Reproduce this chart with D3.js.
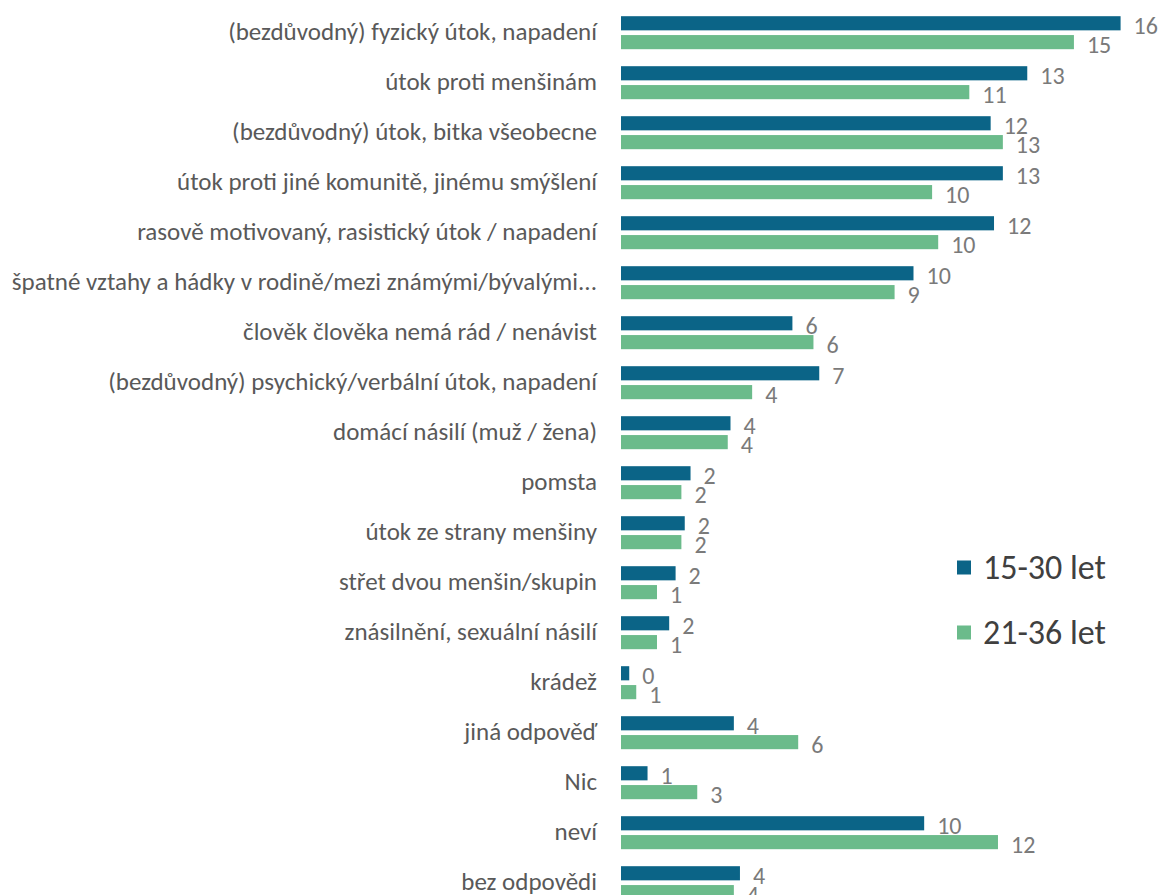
<!DOCTYPE html>
<meta charset="utf-8">
<script src="https://cdn.jsdelivr.net/npm/d3@7"></script>
<style>
body{margin: 0; background: #fff;}
text{font-family: Calibri, Carlito, Lato, sans-serif;}
.cat{fill: #595959; font-size: 25px;}
.val{fill: #7a7a7a; font-size: 24px;}
.leg{fill: #404040; font-size: 34px;}
</style>

<div id="vis"></div>

<script>

// Categories (top to bottom)
var categories = [
  "(bezdůvodný) fyzický útok, napadení",
  "útok proti menšinám",
  "(bezdůvodný) útok, bitka všeobecne",
  "útok proti jiné komunitě, jinému smýšlení",
  "rasově motivovaný, rasistický útok / napadení",
  "špatné vztahy a hádky v rodině/mezi známými/bývalými...",
  "člověk člověka nemá rád / nenávist",
  "(bezdůvodný) psychický/verbální útok, napadení",
  "domácí násilí (muž / žena)",
  "pomsta",
  "útok ze strany menšiny",
  "střet dvou menšin/skupin",
  "znásilnění, sexuální násilí",
  "krádež",
  "jiná odpověď",
  "Nic",
  "neví",
  "bez odpovědi"
];

var seriesNames = ["15-30 let", "21-36 let"];

// values
var young = [16.38, 13.32, 12.12, 12.52, 12.23, 9.59, 5.62, 6.5, 3.59, 2.28, 2.09, 1.79, 1.58, 0.27, 3.7, 0.87, 9.94, 3.9];
var old   = [14.85, 11.42, 12.52, 10.2, 10.4, 8.97, 6.31, 4.3, 3.5, 1.98, 1.98, 1.18, 1.18, 0.5, 5.81, 2.5, 12.36, 3.7];

var colors = ["#0b6487", "#6bbb8b"];

var w = 1160, h = 895;

var svg = d3.select("#vis")
            .append("svg")
            .attr("width", w)
            .attr("height", h);

// scales
var y0 = d3.scaleBand()
    .domain(categories)
    .range([7.7, 907.7])
    .paddingInner(0.34)
    .paddingOuter(0.17);

var y1 = d3.scaleBand()
    .domain(seriesNames)
    .range([0, y0.bandwidth()])
    .paddingInner(0.25);

var x = d3.scaleLinear()
    .domain([0, 17])
    .range([621, 621 + 17 * 30.5]);

var rows = categories.map(function(c, i) {
  return {cat: c, vals: [
    {s: seriesNames[0], v: young[i]},
    {s: seriesNames[1], v: old[i]}
  ]};
});

var g = svg.selectAll(".row")
  .data(rows)
  .enter().append("g")
    .attr("class", "row")
    .attr("transform", function(d) { return "translate(0," + y0(d.cat) + ")"; });

g.selectAll("rect")
  .data(function(d) { return d.vals; })
  .enter().append("rect")
    .attr("x", x(0))
    .attr("y", function(d) { return y1(d.s); })
    .attr("width", function(d) { return x(d.v) - x(0); })
    .attr("height", y1.bandwidth())
    .attr("fill", function(d, i) { return colors[i]; });

g.selectAll(".val")
  .data(function(d) { return d.vals; })
  .enter().append("text")
    .attr("class", "val")
    .attr("x", function(d) { return x(d.v) + 13; })
    .attr("y", function(d) { return y1(d.s) + y1.bandwidth() / 2 + 2; })
    .attr("dominant-baseline", "central")
    .text(function(d) { return Math.round(d.v); });

// category labels
svg.selectAll(".cat")
  .data(categories)
  .enter().append("text")
    .attr("class", "cat")
    .attr("x", 597)
    .attr("y", function(d) { return y0(d) + y0.bandwidth() / 2 - 1; })
    .attr("text-anchor", "end")
    .attr("dominant-baseline", "central")
    .text(function(d) { return d; });

// legend
var legend = svg.selectAll(".legend")
  .data(seriesNames)
  .enter().append("g")
    .attr("class", "legend")
    .attr("transform", function(d, i) { return "translate(957," + (567.5 + i * 65) + ")"; });

legend.append("rect")
    .attr("x", 0)
    .attr("y", -7)
    .attr("width", 14)
    .attr("height", 14)
    .attr("fill", function(d, i) { return colors[i]; });

legend.append("text")
    .attr("class", "leg")
    .attr("x", 26)
    .attr("y", 0)
    .attr("dominant-baseline", "central")
    .text(function(d) { return d; });

</script>
